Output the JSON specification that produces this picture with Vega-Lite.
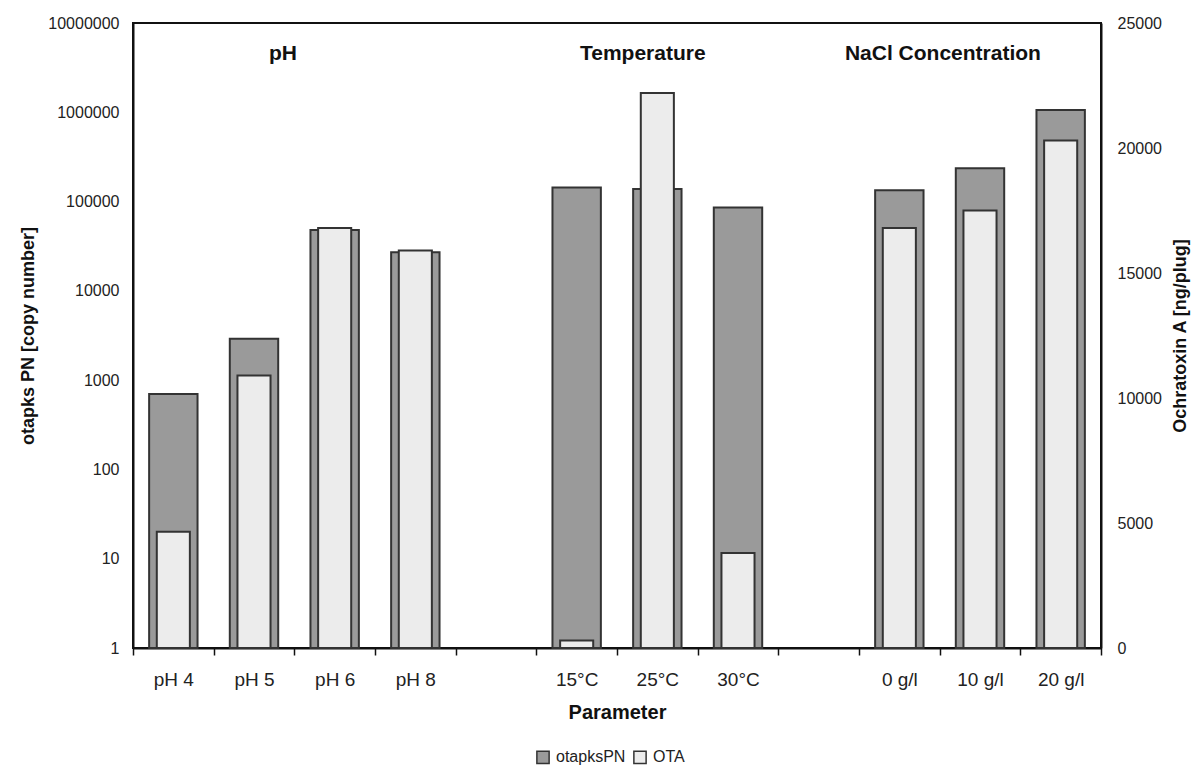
{
  "$schema": "https://vega.github.io/schema/vega-lite/v6.json",
  "width": 968,
  "height": 625,
  "autosize": {"type": "none"},
  "padding": {"left": 133, "top": 23, "right": 96, "bottom": 119},
  "background": "white",
  "config": {
    "font": "Liberation Sans",
    "view": {"stroke": "#111", "strokeWidth": 2},
    "axis": {
      "labelFont": "Liberation Sans",
      "titleFont": "Liberation Sans",
      "labelColor": "#222",
      "titleColor": "#111",
      "domainColor": "#111",
      "domainWidth": 2,
      "tickColor": "#111",
      "tickWidth": 1.5,
      "grid": false
    },
    "legend": {
      "orient": "none",
      "legendX": 402,
      "legendY": 726,
      "direction": "horizontal",
      "labelFont": "Liberation Sans",
      "labelFontSize": 16,
      "labelColor": "#222",
      "symbolType": "square",
      "symbolSize": 150,
      "symbolStrokeColor": "#333",
      "symbolStrokeWidth": 1.5,
      "columnPadding": 4,
      "labelOffset": 5
    }
  },
  "data": {
    "values": [
      {"parameter": "pH 4", "otapksPN": 700, "OTA": 4650},
      {"parameter": "pH 5", "otapksPN": 2900, "OTA": 10900},
      {"parameter": "pH 6", "otapksPN": 48000, "OTA": 16800},
      {"parameter": "pH 8", "otapksPN": 27000, "OTA": 15900},
      {"parameter": "15°C", "otapksPN": 144000, "OTA": 300},
      {"parameter": "25°C", "otapksPN": 138000, "OTA": 22200},
      {"parameter": "30°C", "otapksPN": 86000, "OTA": 3800},
      {"parameter": "0 g/l", "otapksPN": 134000, "OTA": 16800},
      {"parameter": "10 g/l", "otapksPN": 236000, "OTA": 17500},
      {"parameter": "20 g/l", "otapksPN": 1060000, "OTA": 20300}
    ]
  },
  "encoding": {
    "x": {
      "field": "parameter",
      "type": "nominal",
      "scale": {
        "domain": ["pH 4", "pH 5", "pH 6", "pH 8", "gap1", "15°C", "25°C", "30°C", "gap2", "0 g/l", "10 g/l", "20 g/l"],
        "paddingInner": 0,
        "paddingOuter": 0
      },
      "axis": {
        "title": "Parameter",
        "titleFontSize": 20,
        "titleFontWeight": "bold",
        "titlePadding": 13,
        "labelFontSize": 19,
        "labelAngle": 0,
        "labelPadding": 15,
        "tickBand": "extent",
        "tickSize": 7,
        "labelExpr": "indexof(datum.label, 'gap') == 0 ? '' : datum.label"
      }
    }
  },
  "layer": [
    {
      "layer": [
        {
          "mark": {"type": "bar", "width": {"band": 0.6}, "stroke": "#333", "strokeWidth": 2},
          "encoding": {
            "y": {
              "field": "otapksPN",
              "type": "quantitative",
              "scale": {"type": "log", "domain": [1, 10000000], "nice": false},
              "axis": {
                "title": "otapks PN [copy number]",
                "titleFontSize": 18,
                "titleFontWeight": "bold",
                "titlePadding": 10,
                "values": [1, 10, 100, 1000, 10000, 100000, 1000000, 10000000],
                "format": "d",
                "ticks": false,
                "labelFontSize": 16,
                "labelPadding": 14
              }
            },
            "y2": {"datum": 1},
            "color": {
              "datum": "otapksPN",
              "type": "nominal",
              "scale": {"domain": ["otapksPN", "OTA"], "range": ["#9a9a9a", "#ececec"]},
              "legend": {"title": null}
            }
          }
        },
        {
          "data": {"values": [{"group": "pH"}]},
          "mark": {"type": "text", "fontSize": 21, "fontWeight": "bold", "baseline": "alphabetic", "color": "#111"},
          "encoding": {
            "x": {"datum": "pH 5", "type": "nominal", "bandPosition": 0.86},
            "y": {"datum": 3850000, "type": "quantitative"},
            "text": {"field": "group"}
          }
        },
        {
          "data": {"values": [{"group": "Temperature"}]},
          "mark": {"type": "text", "fontSize": 21, "fontWeight": "bold", "baseline": "alphabetic", "color": "#111"},
          "encoding": {
            "x": {"datum": "25°C", "type": "nominal", "bandPosition": 0.32},
            "y": {"datum": 3850000, "type": "quantitative"},
            "text": {"field": "group"}
          }
        },
        {
          "data": {"values": [{"group": "NaCl Concentration"}]},
          "mark": {"type": "text", "fontSize": 21, "fontWeight": "bold", "baseline": "alphabetic", "color": "#111"},
          "encoding": {
            "x": {"datum": "10 g/l", "type": "nominal", "bandPosition": 0.04},
            "y": {"datum": 3850000, "type": "quantitative"},
            "text": {"field": "group"}
          }
        }
      ]
    },
    {
      "mark": {"type": "bar", "width": {"band": 0.41}, "stroke": "#333", "strokeWidth": 2},
      "encoding": {
        "y": {
          "field": "OTA",
          "type": "quantitative",
          "scale": {"domain": [0, 25000], "nice": false},
          "axis": {
            "orient": "right",
            "title": "Ochratoxin A [ng/plug]",
            "titleFontSize": 18,
            "titleFontWeight": "bold",
            "titleAngle": 270,
            "titleBaseline": "top",
            "titlePadding": 10,
            "values": [0, 5000, 10000, 15000, 20000, 25000],
            "format": "d",
            "ticks": false,
            "labelFontSize": 16,
            "labelPadding": 16
          }
        },
        "color": {"datum": "OTA", "type": "nominal"}
      }
    }
  ],
  "resolve": {"scale": {"y": "independent"}}
}
